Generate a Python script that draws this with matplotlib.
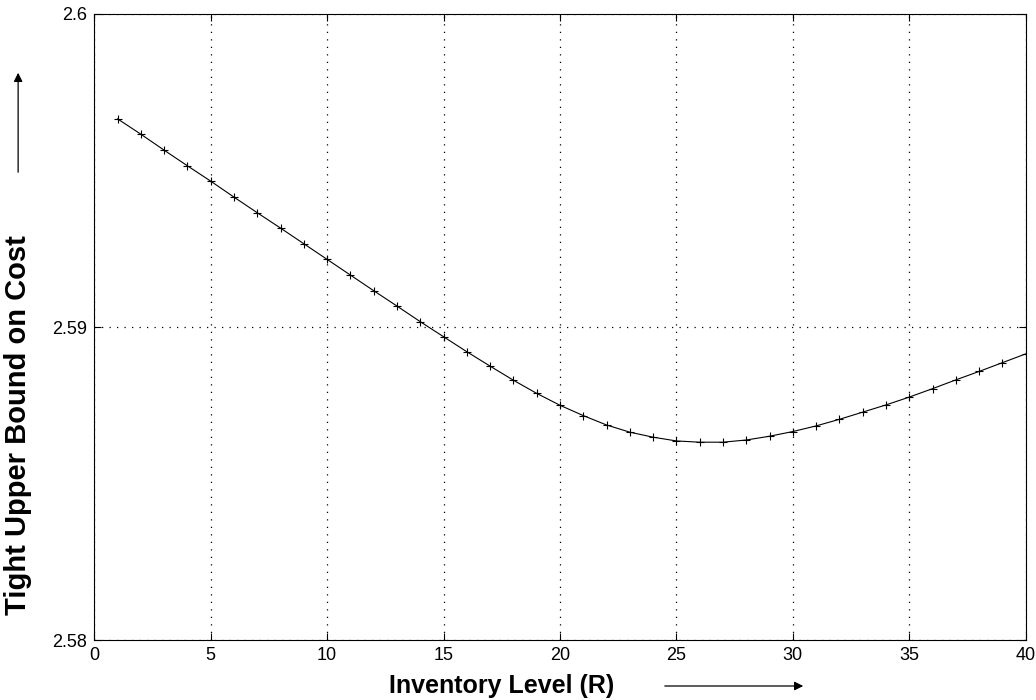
import numpy as np
import matplotlib
matplotlib.use("Agg")
import matplotlib.pyplot as plt
from matplotlib.patches import FancyArrowPatch

# R = 1..40
R = list(range(1, 41))
cost = [2.59665, 2.59616, 2.59565, 2.59515, 2.59466, 2.59415, 2.59365, 2.59316,
        2.59266, 2.59216, 2.59166, 2.59116, 2.59067, 2.59017, 2.58969, 2.58921,
        2.58875, 2.58830, 2.58788, 2.58750, 2.58717, 2.58687, 2.58664, 2.58648,
        2.58636, 2.58632, 2.58632, 2.58639, 2.58651, 2.58666, 2.58684, 2.58705,
        2.58728, 2.58751, 2.58776, 2.58803, 2.58831, 2.58858, 2.58886, 2.58914]

xticks = [0, 5, 10, 15, 20, 25, 30, 35, 40]
yticks = [2.58, 2.59, 2.6]
ytick_labels = ["2.58", "2.59", "2.6"]

plt.rcParams['font.family'] = ['Liberation Sans', 'DejaVu Sans']

fig = plt.figure(figsize=(10.36, 7.0), dpi=100)
ax = fig.add_axes([0.091, 0.0857, 0.899, 0.8943])

ax.plot(R, cost, color='black', lw=0.8, marker='+', ms=6, mew=0.8)

ax.set_xlim(0, 40)
ax.set_ylim(2.58, 2.6)
ax.set_xticks(xticks)
ax.set_yticks(yticks)
ax.set_yticklabels(ytick_labels)
ax.tick_params(direction='in', length=5, width=0.8, labelsize=13,
               top=True, right=True)
ax.tick_params(axis='x', pad=5)
ax.tick_params(axis='y', pad=5)
ax.grid(True, color='black', linestyle=(0, (1, 5)), linewidth=0.9)
for s in ax.spines.values():
    s.set_linewidth(0.8)

fig.text(0.484, 0.02, "Inventory Level (R)", ha='center', va='center',
         fontsize=18, fontweight='bold')
fig.text(0.0175, 0.393, "Tight Upper Bound on Cost", ha='center', va='center',
         rotation=90, fontsize=21, fontweight='bold')

# arrows next to axis labels
fig.add_artist(FancyArrowPatch((0.639, 0.02), (0.778, 0.02),
                               transform=fig.transFigure, arrowstyle='-|>',
                               mutation_scale=13, color='black', lw=0.9))
fig.add_artist(FancyArrowPatch((0.0175, 0.75), (0.0175, 0.9),
                               transform=fig.transFigure, arrowstyle='-|>',
                               mutation_scale=13, color='black', lw=0.9))

fig.savefig("out.png", dpi=100)
